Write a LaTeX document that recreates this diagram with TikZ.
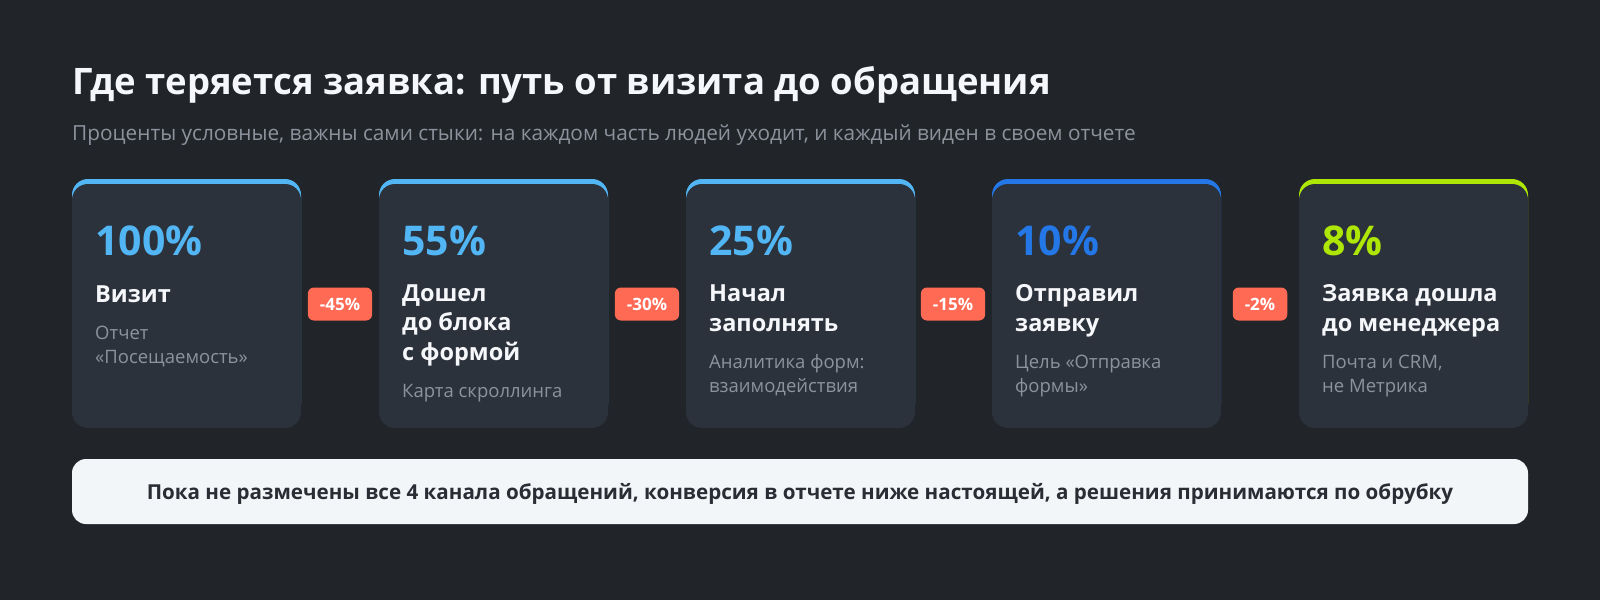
\documentclass[tikz,border=0pt]{standalone}
\usepackage{fontspec}
\setmainfont{Open Sans}
\usetikzlibrary{positioning}

\definecolor{bgdark}{HTML}{212429}
\definecolor{cardfill}{HTML}{2C323B}
\definecolor{skyblue}{HTML}{52B6F4}
\definecolor{deepblue}{HTML}{2477E6}
\definecolor{limegreen}{HTML}{AEE605}
\definecolor{coral}{HTML}{FF6A55}
\definecolor{barfill}{HTML}{F2F6F9}
\definecolor{bartext}{HTML}{2A2D33}
\definecolor{softgray}{HTML}{8D939C}
\definecolor{titlewhite}{HTML}{F5F7FA}

\tikzset{
  pct/.style={anchor=base west, inner sep=0pt, font=\bfseries\fontsize{41}{44}\selectfont},
  stage/.style={anchor=base west, inner sep=0pt, align=left, text=titlewhite,
    font=\bfseries\fontsize{23.5}{29.5}\selectfont},
  report/.style={anchor=base west, inner sep=0pt, align=left, text=softgray,
    font=\fontsize{18.5}{24}\selectfont},
  drop/.style={fill=coral, text=white, rounded corners=6pt, minimum height=33pt,
    inner xsep=12pt, inner ysep=0pt, font=\bfseries\fontsize{17}{18}\selectfont}
}

\begin{document}
\begin{tikzpicture}[x=1pt,y=-1pt]
\fill[bgdark] (0,0) rectangle (1600,600);
\useasboundingbox (0,0) rectangle (1600,600);

\node[anchor=base west, inner sep=0pt, text=titlewhite, font=\bfseries\fontsize{36.5}{40}\selectfont]
  (title) at (72,94) {Где теряется заявка: путь от визита до обращения};
\node[anchor=base west, inner sep=0pt, text=softgray, font=\fontsize{20.8}{24}\selectfont]
  (subtitle) at (72,140) {Проценты условные, важны сами стыки: на каждом часть людей уходит, и каждый виден в своем отчете};

\fill[skyblue, rounded corners=16pt] (72,179) rectangle (301,420);
\fill[cardfill, rounded corners=16pt] (72,184) rectangle (301,428);
\node[pct, text=skyblue] (p1) at (95,255) {100\%};
\node[stage] (s1) at (95,302) {Визит};
\node[report] (r1) at (95,363) {Отчет\\«Посещаемость»};

\fill[skyblue, rounded corners=16pt] (379,179) rectangle (608,420);
\fill[cardfill, rounded corners=16pt] (379,184) rectangle (608,428);
\node[pct, text=skyblue] (p2) at (402,255) {55\%};
\node[stage] (s2) at (402,360) {Дошел\\до блока\\с формой};
\node[report] (r2) at (402,397) {Карта скроллинга};

\fill[skyblue, rounded corners=16pt] (686,179) rectangle (915,420);
\fill[cardfill, rounded corners=16pt] (686,184) rectangle (915,428);
\node[pct, text=skyblue] (p3) at (709,255) {25\%};
\node[stage] (s3) at (709,331) {Начал\\заполнять};
\node[report] (r3) at (709,392) {Аналитика форм:\\взаимодействия};

\fill[deepblue, rounded corners=16pt] (992,179) rectangle (1221,420);
\fill[cardfill, rounded corners=16pt] (992,184) rectangle (1221,428);
\node[pct, text=deepblue] (p4) at (1015,255) {10\%};
\node[stage] (s4) at (1015,331) {Отправил\\заявку};
\node[report] (r4) at (1015,392) {Цель «Отправка\\формы»};

\fill[limegreen, rounded corners=16pt] (1299,179) rectangle (1528,420);
\fill[cardfill, rounded corners=16pt] (1299,184) rectangle (1528,428);
\node[pct, text=limegreen] (p5) at (1322,255) {8\%};
\node[stage] (s5) at (1322,331) {Заявка дошла\\до менеджера};
\node[report] (r5) at (1322,392) {Почта и CRM,\\не Метрика};

\node[drop] (d1) at (340,304) {-45\%};
\node[drop] (d2) at (647,304) {-30\%};
\node[drop] (d3) at (953,304) {-15\%};
\node[drop] (d4) at (1260,304) {-2\%};

\fill[barfill, rounded corners=14pt] (72,459) rectangle (1528,524);
\node[anchor=base, inner sep=0pt, text=bartext, font=\bfseries\fontsize{20.6}{22}\selectfont]
  (note) at (800,499) {Пока не размечены все 4 канала обращений, конверсия в отчете ниже настоящей, а решения принимаются по обрубку};
\end{tikzpicture}
\end{document}
